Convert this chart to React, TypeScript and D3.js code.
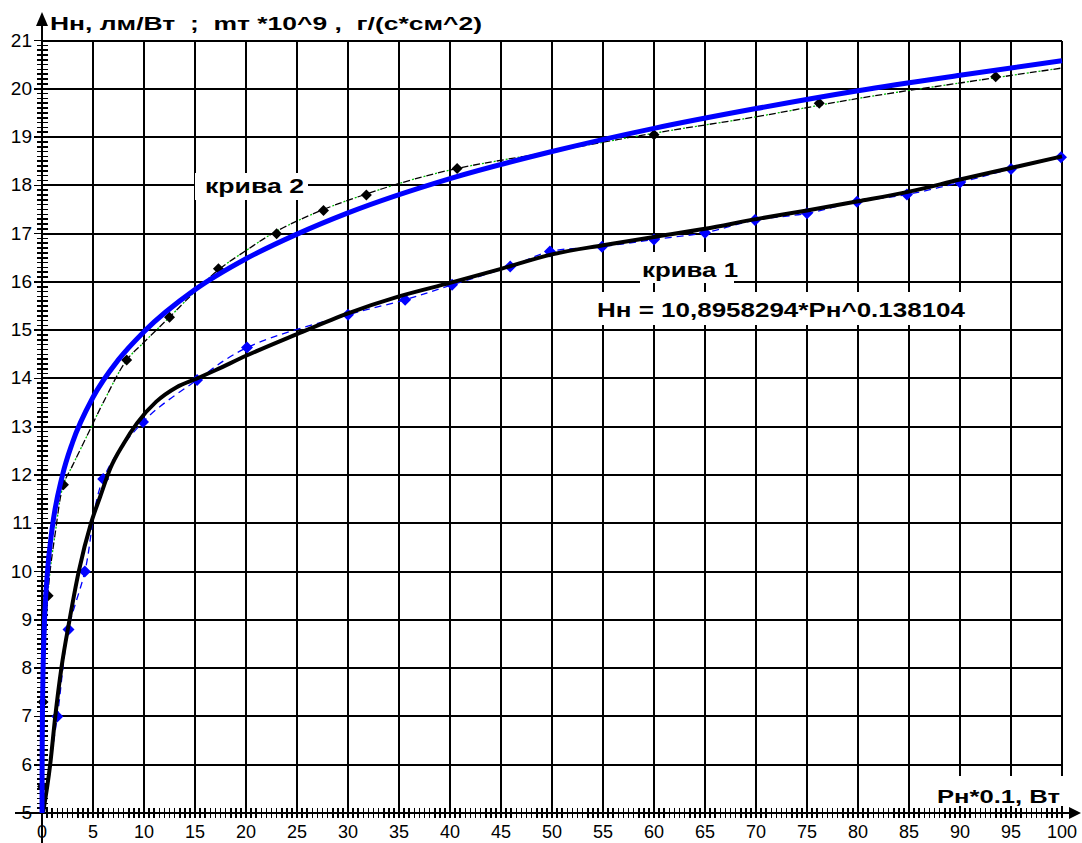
import React from 'react';
import * as d3 from 'd3';

// ---------- data ----------
const xTickValues = [0, 5, 10, 15, 20, 25, 30, 35, 40, 45, 50, 55, 60, 65, 70, 75, 80, 85, 90, 95, 100];
const yTickValues = [5, 6, 7, 8, 9, 10, 11, 12, 13, 14, 15, 16, 17, 18, 19, 20, 21];

// curve 1: measured points (blue diamonds)
const curve1PtsX = [1.5, 2.6, 4.2, 6.0, 9.9, 15.2, 20.1, 30, 35.6, 40.2, 45.9, 49.8, 54.9, 60, 65, 69.9, 75, 79.9, 84.8, 90, 95, 99.9];
const curve1PtsY = [7.0, 8.8, 10.0, 11.92, 13.1, 13.97, 14.64, 15.32, 15.63, 15.94, 16.32, 16.63, 16.73, 16.88, 17.02, 17.28, 17.42, 17.66, 17.81, 18.06, 18.34, 18.58];

// curve 1: smoothed black line
const curve1LineX = [0.1, 0.8, 1.3, 1.9, 2.7, 3.6, 4.8, 5.7, 6.7, 8.0, 9.3, 11.2, 13.2, 15.2, 17, 20, 25, 30, 35, 40, 45, 50, 55, 60, 65, 70, 75, 80, 85, 90, 95, 100];
const curve1LineY = [5.0, 6.0, 7.0, 8.0, 9.0, 10.0, 11.0, 11.55, 12.14, 12.65, 13.07, 13.52, 13.82, 14.0, 14.17, 14.47, 14.92, 15.35, 15.7, 15.98, 16.27, 16.57, 16.76, 16.93, 17.1, 17.3, 17.48, 17.67, 17.87, 18.12, 18.36, 18.6];

// curve 2: measured points (black diamonds)
const curve2PtsX = [0.05, 0.1, 0.6, 2.1, 8.3, 12.5, 17.3, 23, 27.6, 31.8, 40.7, 60, 76.2, 93.5];
const curve2PtsY = [5.55, 7.3, 9.5, 11.8, 14.38, 15.27, 16.27, 17.0, 17.48, 17.8, 18.35, 19.05, 19.7, 20.25];

// curve 2: thin dashed trend line
const curve2TrendX = [0.03, 0.1, 0.6, 1.3, 2.1, 3.0, 4.5, 6, 8.3, 10, 12.5, 15, 17.3, 20, 23, 27.6, 31.8, 36, 40.7, 50, 60, 70, 80, 90, 100];
const curve2TrendY = [5.5, 7.3, 9.6, 10.8, 11.8, 12.2, 12.85, 13.5, 14.38, 14.75, 15.27, 15.8, 16.25, 16.65, 17.05, 17.5, 17.82, 18.1, 18.35, 18.7, 19.08, 19.42, 19.8, 20.12, 20.43];

// curve 2: power fit (thick blue)
const curve2FitX = [0.003, 0.01, 0.02, 0.05, 0.1, 0.2, 0.5, 1, 2, 3, 5, 7.5, 10, 15, 20, 25, 30, 40, 50, 60, 70, 80, 90, 100];
const curve2FitY = [5.0, 5.77, 6.35, 7.2, 7.93, 8.72, 9.9, 10.9, 11.99, 12.68, 13.61, 14.39, 14.97, 15.84, 16.48, 16.99, 17.43, 18.14, 18.7, 19.18, 19.59, 19.96, 20.28, 20.58];

const titleText = 'Нн, лм/Вт  ;  mт *10^9 ,  г/(с*см^2)';
const xAxisText = 'Рн*0.1, Вт';
const label2Text = 'крива 2';
const label1Text = 'крива 1';
const formulaText = 'Нн = 10,8958294*Рн^0.138104';

// ---------- chart ----------
const W = 1082;
const H = 843;
const FONT = "'Liberation Sans', Arial, sans-serif";

const zip = (xs: number[], ys: number[]): [number, number][] => xs.map((v, i) => [v, ys[i]]);

export default function App() {
  const x = d3.scaleLinear().domain([0, 100]).range([42, 1062]);
  const y = d3.scaleLinear().domain([5, 21]).range([813, 40.5]);

  const line = d3
    .line<[number, number]>()
    .x((d) => x(d[0]))
    .y((d) => y(d[1]))
    .curve(d3.curveMonotoneX);
  const cr = d3
    .line<[number, number]>()
    .x((d) => x(d[0]))
    .y((d) => y(d[1]))
    .curve(d3.curveCatmullRom.alpha(0.5));

  const xMinor = d3.range(0, 100.01, 0.5);
  const yMinor = d3.range(5, 21.001, 0.1);

  const diamond = (r: number) => `M0,${-r}L${r},0L0,${r}L${-r},0Z`;

  const c1Pts = zip(curve1PtsX, curve1PtsY);
  const c2Pts = zip(curve2PtsX, curve2PtsY);
  const c1Dashed: [number, number][] = [[0.05, 5], ...c1Pts];

  return (
    <svg
      width={W}
      height={H}
      style={{ position: 'absolute', left: 0, top: 0, background: '#fff' }}
      fontFamily={FONT}
    >
      <rect x={0} y={0} width={W} height={H} fill="#fff" />
      {/* grid */}
      <g stroke="#000" strokeWidth={2} shapeRendering="crispEdges">
        {xTickValues.filter((v) => v > 0).map((v) => (
          <line key={'gx' + v} x1={x(v)} x2={x(v)} y1={y(5)} y2={y(21)} />
        ))}
        {yTickValues.filter((v) => v > 5).map((v) => (
          <line key={'gy' + v} x1={x(0)} x2={x(100)} y1={y(v)} y2={y(v)} />
        ))}
      </g>
      {/* minor ticks */}
      <g stroke="#000" strokeWidth={1.6} shapeRendering="crispEdges">
        {xMinor.map((v) => (
          <line key={'tx' + v} x1={x(v)} x2={x(v)} y1={y(5) - 5} y2={y(5) + 5} />
        ))}
        {yMinor.map((v) => (
          <line
            key={'ty' + v.toFixed(1)}
            x1={Math.abs(v - Math.round(v)) < 1e-6 ? x(0) - 8 : x(0) - 5}
            x2={x(0) + 6}
            y1={y(v)}
            y2={y(v)}
          />
        ))}
      </g>
      {/* axes */}
      <g stroke="#000" strokeWidth={2} shapeRendering="crispEdges">
        <line x1={15} x2={1072} y1={y(5)} y2={y(5)} />
        <line x1={x(0)} x2={x(0)} y1={20} y2={843} />
      </g>
      <path d={`M${x(0)},12L${x(0) + 6},26L${x(0) - 6},26Z`} fill="#000" />
      <path d={`M1081,${y(5)}L1069,${y(5) - 6}L1069,${y(5) + 6}Z`} fill="#000" />

      {/* tick labels */}
      <g fontSize={19} fill="#000">
        {yTickValues.map((v) => (
          <text key={'ly' + v} x={32} y={y(v) + 6} textAnchor="end">
            {v}
          </text>
        ))}
      </g>
      <g fontSize={18} fill="#000">
        {xTickValues.map((v) => (
          <text key={'lx' + v} x={x(v)} y={838} textAnchor="middle">
            {v}
          </text>
        ))}
      </g>

      {/* text boxes */}
      <rect x={195} y={173} width={113} height={27} fill="#fff" />
      <rect x={640} y={252} width={94} height={31} fill="#fff" />
      <rect x={590} y={292} width={382} height={33} fill="#fff" />
      <rect x={928} y={776} width={140} height={30} fill="#fff" />

      {/* curve 2 dashed trend with green dots */}
      <path d={cr(zip(curve2TrendX, curve2TrendY)) || ''} fill="none" stroke="#00c000" strokeWidth={1.3} strokeDasharray="2,10" strokeDashoffset={-9} />
      <path d={cr(zip(curve2TrendX, curve2TrendY)) || ''} fill="none" stroke="#000" strokeWidth={1.3} strokeDasharray="7,5" />
      {/* curve 1 thin blue dashed */}
      <path d={cr(c1Dashed) || ''} fill="none" stroke="#0000ff" strokeWidth={1.3} strokeDasharray="7,5" />

      {/* markers */}
      {c1Pts.map((d, i) => (
        <path key={'m1' + i} d={diamond(6)} transform={`translate(${x(d[0])},${y(d[1])})`} fill="#0000ff" />
      ))}
      {c2Pts.map((d, i) => (
        <path key={'m2' + i} d={diamond(5.5)} transform={`translate(${x(d[0])},${y(d[1])})`} fill="#000" />
      ))}

      {/* thick lines */}
      <path d={line(zip(curve1LineX, curve1LineY)) || ''} fill="none" stroke="#000" strokeWidth={4} strokeLinejoin="round" />
      <path d={line(zip(curve2FitX, curve2FitY)) || ''} fill="none" stroke="#0000ff" strokeWidth={5} strokeLinejoin="round" />

      {/* texts */}
      <text x={50} y={30} fontSize={18} fontWeight="bold" textLength={432} lengthAdjust="spacingAndGlyphs" style={{ whiteSpace: 'pre' }}>
        {titleText}
      </text>
      <text x={937} y={803} fontSize={18} fontWeight="bold" textLength={123} lengthAdjust="spacingAndGlyphs">
        {xAxisText}
      </text>
      <text x={205} y={193} fontSize={21} fontWeight="bold" textLength={99} lengthAdjust="spacingAndGlyphs">
        {label2Text}
      </text>
      <text x={642} y={277} fontSize={21} fontWeight="bold" textLength={96} lengthAdjust="spacingAndGlyphs">
        {label1Text}
      </text>
      <text x={597} y={317} fontSize={21} fontWeight="bold" textLength={368} lengthAdjust="spacingAndGlyphs">
        {formulaText}
      </text>
    </svg>
  );
}
